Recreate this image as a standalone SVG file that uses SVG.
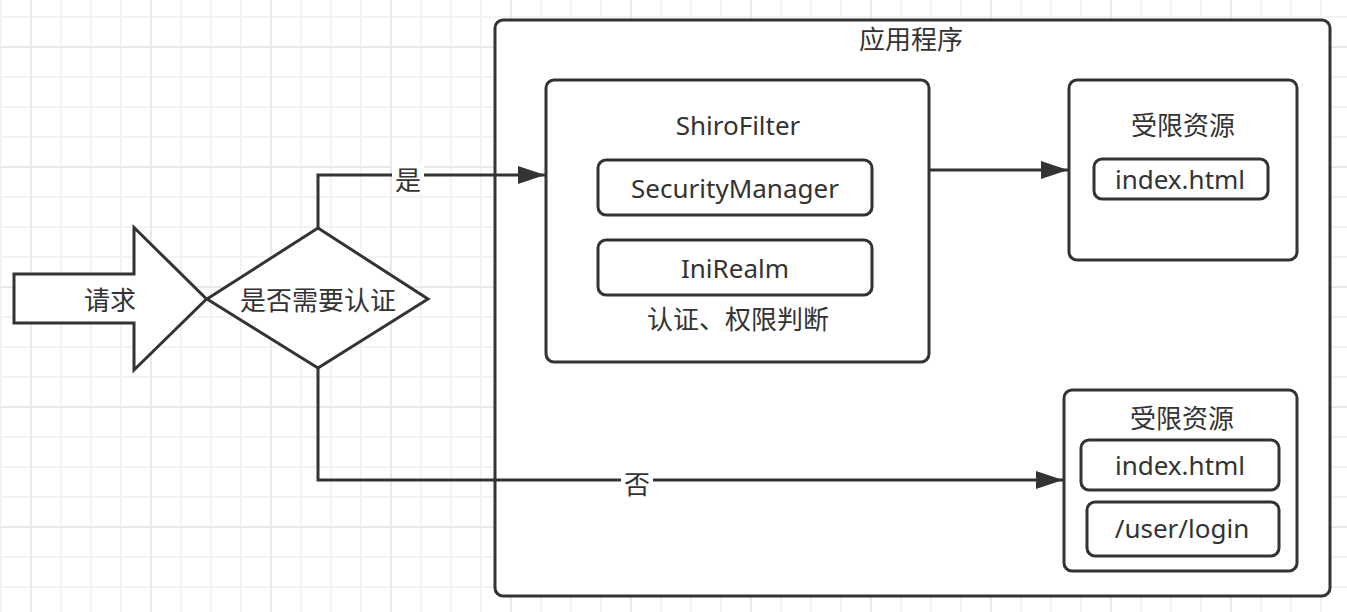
<svg xmlns="http://www.w3.org/2000/svg" width="1347" height="612" viewBox="0 0 1347 612">
<style>
.box{fill:#fff;stroke:#333;stroke-width:3}
.t{font-family:"Noto Sans","Noto Sans CJK SC",sans-serif;font-size:26px;fill:#333;text-anchor:middle}
.c{dominant-baseline:central}
.ln{fill:none;stroke:#333;stroke-width:3}
</style>
<defs>
<pattern id="grid" width="120" height="120" patternUnits="userSpaceOnUse" x="30" y="46">
<path d="M31,0V120M61,0V120M91,0V120M0,31H120M0,61H120M0,91H120" stroke="#f3f3f3" stroke-width="2" fill="none"/>
<path d="M1,0V120M0,1H120" stroke="#e9e9e9" stroke-width="2" fill="none"/>
</pattern>
<marker id="ah" markerUnits="userSpaceOnUse" markerWidth="28" markerHeight="20" refX="27" refY="10" orient="auto">
<path d="M0,1L27,10L0,19z" fill="#333"/>
</marker>
</defs>
<rect width="1347" height="612" fill="#fff"/>
<rect width="1347" height="612" fill="url(#grid)"/>

<g id="app">
<rect class="box" x="495" y="20" width="835" height="576" rx="8"/>
<text class="t c" x="911" y="39">应用程序</text>
</g>

<g id="request">
<path class="box" d="M14,274H134V227.5L206.5,299L134,370V323H14Z" stroke-linejoin="miter"/>
<text class="t c" x="110" y="300">请求</text>
</g>

<g id="decision">
<path class="box" d="M207,299L318,228L428,299L318,368Z"/>
<text class="t c" x="318" y="300">是否需要认证</text>
</g>

<g id="shirofilter">
<rect class="box" x="546" y="80" width="383" height="282" rx="8"/>
<text class="t" x="738" y="135">ShiroFilter</text>
<text class="t c" x="738" y="319">认证、权限判断</text>
</g>
<g id="securitymanager">
<rect class="box" x="598" y="160" width="274" height="55" rx="8"/>
<text class="t" x="735" y="198">SecurityManager</text>
</g>
<g id="inirealm">
<rect class="box" x="598" y="240" width="274" height="55" rx="8"/>
<text class="t" x="735" y="278">IniRealm</text>
</g>

<g id="restricted1">
<rect class="box" x="1069" y="80" width="228" height="180" rx="8"/>
<text class="t c" x="1183" y="125">受限资源</text>
</g>
<g id="index1">
<rect class="box" x="1094" y="159" width="174" height="40" rx="8"/>
<text class="t" x="1180" y="189">index.html</text>
</g>

<g id="restricted2">
<rect class="box" x="1064" y="390" width="233" height="181" rx="8"/>
<text class="t c" x="1182" y="418">受限资源</text>
</g>
<g id="index2">
<rect class="box" x="1081" y="440" width="198" height="50" rx="8"/>
<text class="t" x="1180" y="475">index.html</text>
</g>
<g id="login">
<rect class="box" x="1087" y="502" width="192" height="54" rx="8"/>
<text class="t" x="1182" y="538">/user/login</text>
</g>

<g id="connectors">
<path class="ln" d="M318,228V175H545" marker-end="url(#ah)"/>
<rect x="392" y="162" width="32" height="32" fill="#fff"/>
<text class="t c" x="408" y="180">是</text>
<path class="ln" d="M929,170H1068" marker-end="url(#ah)"/>
<path class="ln" d="M318,368V480H1063" marker-end="url(#ah)"/>
<rect x="621" y="468" width="32" height="32" fill="#fff"/>
<text class="t c" x="637" y="484">否</text>
</g>
</svg>
